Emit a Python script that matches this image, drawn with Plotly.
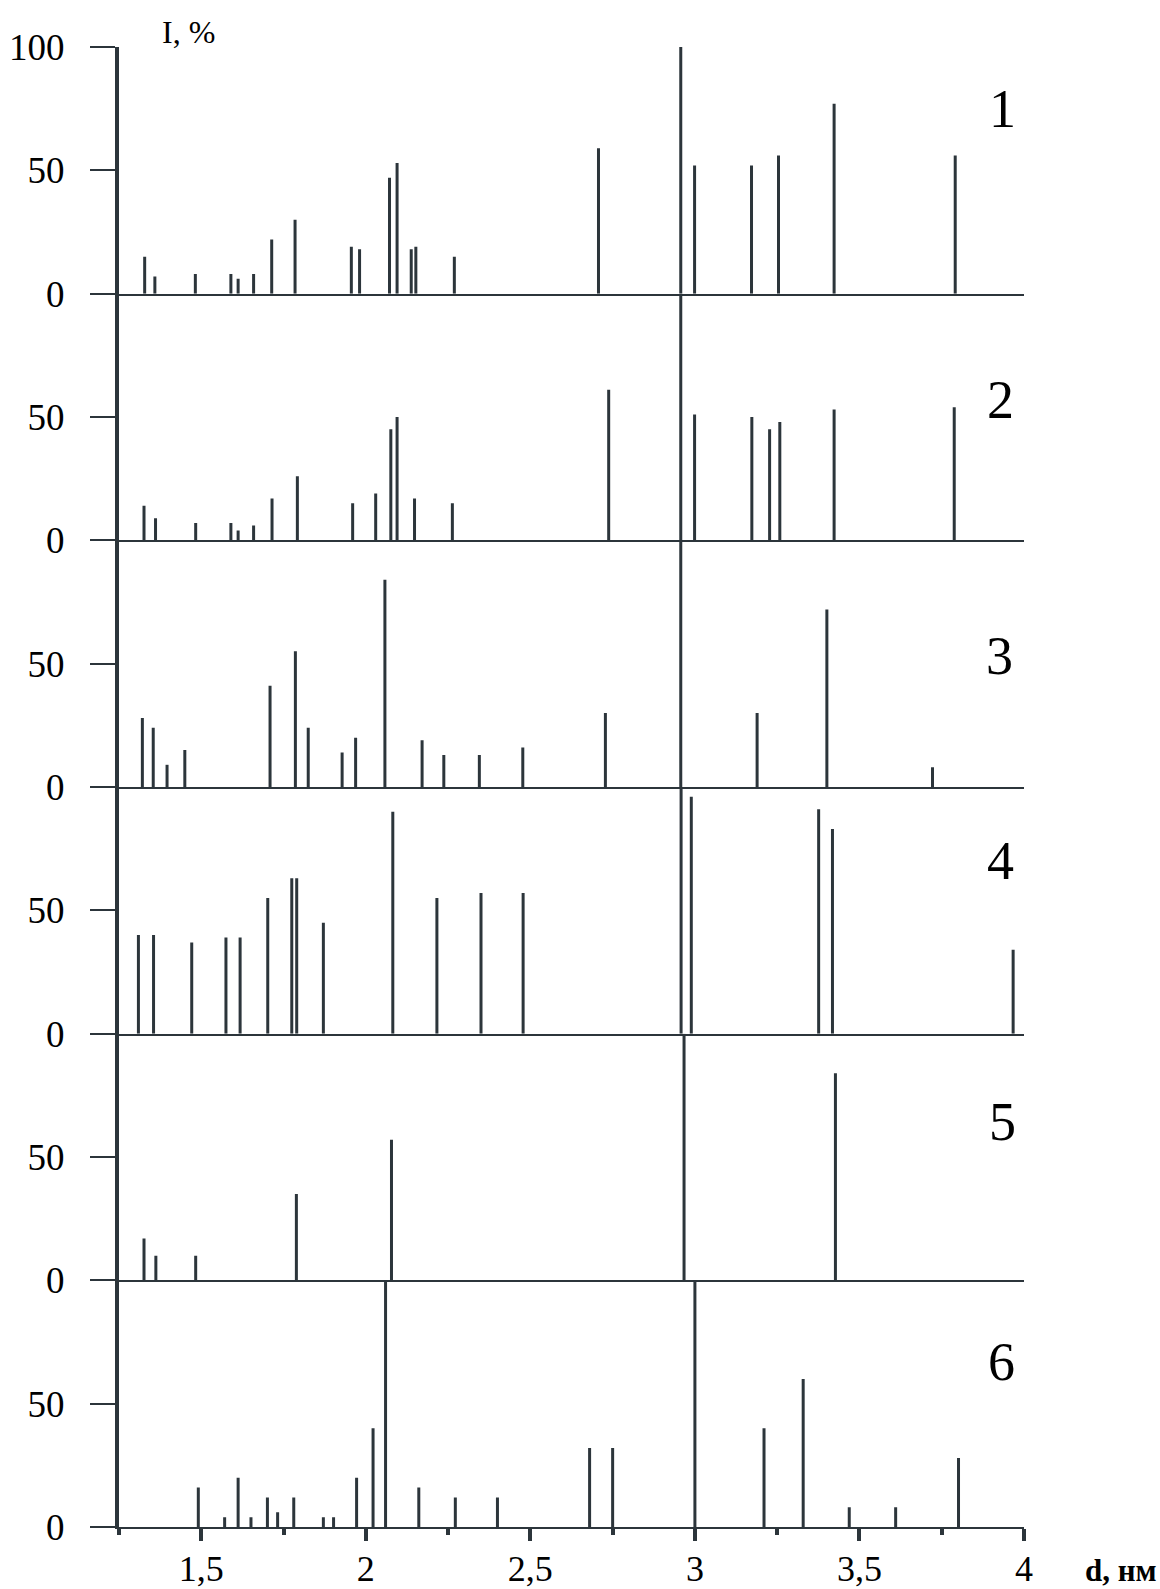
import plotly.graph_objects as go
from plotly.subplots import make_subplots

# Interplanar spacing d (nm) and relative intensity I (%) for each pattern
d1 = [1.328, 1.359, 1.482, 1.590, 1.612, 1.659, 1.714, 1.785, 1.956, 1.981, 2.072, 2.095,
      2.138, 2.152, 2.269, 2.707, 2.957, 2.999, 3.172, 3.254, 3.423, 3.791]
i1 = [15, 7, 8, 8, 6, 8, 22, 30, 19, 18, 47, 53, 18, 19, 15, 59, 100, 52, 52, 56, 77, 56]

d2 = [1.326, 1.361, 1.483, 1.590, 1.612, 1.659, 1.715, 1.792, 1.960, 2.030, 2.076, 2.095,
      2.148, 2.263, 2.738, 2.957, 2.999, 3.173, 3.227, 3.258, 3.423, 3.788]
i2 = [14, 9, 7, 7, 4, 6, 17, 26, 15, 19, 45, 50, 17, 15, 61, 100, 51, 50, 45, 48, 53, 54]

d3 = [1.321, 1.354, 1.396, 1.450, 1.709, 1.786, 1.825, 1.928, 1.969, 2.058, 2.171, 2.237,
      2.345, 2.477, 2.728, 2.957, 3.189, 3.401, 3.722]
i3 = [28, 24, 9, 15, 41, 55, 24, 14, 20, 84, 19, 13, 13, 16, 30, 100, 30, 72, 8]

d4 = [1.309, 1.355, 1.471, 1.575, 1.618, 1.702, 1.775, 1.790, 1.871, 2.082, 2.216, 2.350,
      2.478, 2.958, 2.989, 3.376, 3.418, 3.967]
i4 = [40, 40, 37, 39, 39, 55, 63, 63, 45, 90, 55, 57, 57, 100, 96, 91, 83, 34]

d5 = [1.326, 1.362, 1.483, 1.789, 2.078, 2.967, 3.427]
i5 = [17, 10, 10, 35, 57, 100, 84]

d6 = [1.491, 1.571, 1.612, 1.651, 1.701, 1.732, 1.781, 1.871, 1.902, 1.972, 2.022, 2.060,
      2.161, 2.272, 2.400, 2.680, 2.750, 3.000, 3.210, 3.329, 3.469, 3.610, 3.801]
i6 = [16, 4, 20, 4, 12, 6, 12, 4, 4, 20, 40, 100, 16, 12, 12, 32, 32, 100, 40, 60, 8, 8, 28]

panels = [(d1, i1), (d2, i2), (d3, i3), (d4, i4), (d5, i5), (d6, i6)]
panel_names = ["1", "2", "3", "4", "5", "6"]
# where each pattern number sits inside its panel (d, I)
name_pos = [(3.935, 75), (3.928, 57), (3.925, 53), (3.928, 70), (3.935, 64), (3.932, 67)]

x_major = [1.5, 2.0, 2.5, 3.0, 3.5, 4.0]
x_major_text = ["1,5", "2", "2,5", "3", "3,5", "4"]
x_minor = [1.25, 1.75, 2.25, 2.75, 3.25, 3.75]

INK = "#2c353b"
SERIF = "Liberation Serif"

# plot area in pixels
W, H = 1160, 1589
L, R, T, B = 119, 136, 47, 62
PW, PH = W - L - R, H - T - B

fig = make_subplots(rows=6, cols=1, shared_xaxes=True, vertical_spacing=0)

for k, (d, inten) in enumerate(panels, start=1):
    xs, ys = [], []
    for x, y in zip(d, inten):
        xs += [x, x, None]
        ys += [0, y, None]
    fig.add_trace(
        go.Scatter(x=xs, y=ys, mode="lines", line=dict(color=INK, width=3),
                   hoverinfo="skip", showlegend=False),
        row=k, col=1,
    )
    yvals = [0, 50, 100] if k == 1 else [0, 50]
    fig.update_yaxes(
        range=[0, 100], tickvals=yvals, ticktext=[str(v) for v in yvals],
        ticks="outside", ticklen=25, tickwidth=2, tickcolor=INK,
        showline=True, linewidth=4, linecolor=INK,
        showgrid=False, zeroline=False, ticklabelstandoff=18, automargin=False,
        tickfont=dict(family=SERIF, size=37, color="black"),
        fixedrange=True, row=k, col=1,
    )
    xa = dict(range=[1.25, 4.0], showline=True, linewidth=2, linecolor=INK,
              showgrid=False, zeroline=False, fixedrange=True, automargin=False)
    if k < 6:
        xa.update(ticks="", showticklabels=False)
    else:
        xa.update(
            tickvals=x_major, ticktext=x_major_text, ticks="outside",
            ticklen=12, tickwidth=4, tickcolor=INK, showticklabels=True,
            ticklabelstandoff=-3,
            tickfont=dict(family=SERIF, size=36, color="black"),
            minor=dict(tickvals=x_minor, ticks="outside", ticklen=6,
                       tickwidth=4, tickcolor=INK),
        )
    fig.update_xaxes(**xa, row=k, col=1)

    nx, ny = name_pos[k - 1]
    yref = "y" if k == 1 else f"y{k}"
    fig.add_annotation(x=nx, y=ny, xref="x", yref=yref, text=panel_names[k - 1],
                       showarrow=False, font=dict(family=SERIF, size=54, color="black"))

# axis captions
fig.add_annotation(xref="paper", yref="paper", x=(160 - L) / PW, y=1 + (T - 32) / PH,
                   xanchor="left", yanchor="middle", text="I, %", showarrow=False,
                   font=dict(family=SERIF, size=32, color="black"))

fig.add_annotation(xref="paper", yref="paper", x=(1159 - L) / PW,
                   y=-(1570 - (H - B)) / PH, xanchor="right", yanchor="middle",
                   text="<b>d, нм</b>", showarrow=False,
                   font=dict(family=SERIF, size=31, color="black"))

fig.update_layout(
    width=W, height=H,
    margin=dict(l=L, r=R, t=T, b=B, autoexpand=False),
    paper_bgcolor="white", plot_bgcolor="white",
    showlegend=False,
)

fig.write_html("out.html")
